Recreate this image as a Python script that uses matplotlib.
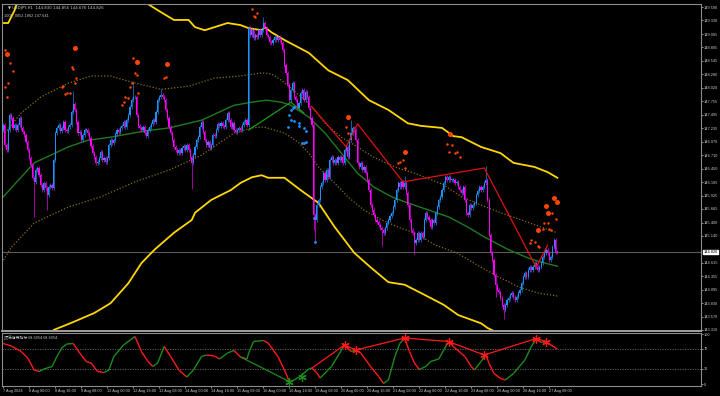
import numpy as np
import matplotlib.pyplot as plt
from matplotlib.collections import LineCollection

# ---------------- data (USDJPY H1) ----------------
closes = [
    147.30, 146.91, 146.81, 147.20, 147.49, 147.43, 147.24, 147.30, 147.20, 147.30, 147.43, 147.24, 147.16, 147.10, 146.97, 146.81,
    146.65, 146.52, 146.27, 146.19, 146.42, 146.46, 146.32, 146.13, 146.03, 146.17, 146.07, 145.94, 146.09, 146.13, 146.07, 146.62,
    147.14, 147.24, 147.30, 147.18, 147.24, 147.35, 147.20, 147.18, 147.26, 147.30, 147.55, 147.70, 147.59, 147.35, 147.14, 147.16,
    147.00, 147.10, 147.20, 147.20, 147.14, 147.04, 146.89, 146.75, 146.67, 146.56, 146.58, 146.65, 146.77, 146.62, 146.65, 146.58,
    146.65, 146.91, 147.00, 146.95, 147.00, 147.12, 147.20, 147.16, 147.24, 147.28, 147.35, 147.26, 147.39, 147.49, 147.65, 147.78,
    147.84, 147.84, 147.49, 147.28, 147.24, 147.20, 147.26, 147.14, 147.08, 147.20, 147.26, 147.32, 147.39, 147.35, 147.55, 147.78,
    147.84, 147.88, 147.84, 147.78, 147.59, 147.43, 147.26, 147.14, 147.00, 146.87, 146.81, 146.75, 146.81, 146.75, 146.85, 146.89,
    146.81, 146.91, 146.81, 146.67, 146.56, 146.71, 146.87, 147.00, 147.06, 147.26, 147.35, 147.16, 147.00, 146.91, 146.97, 146.85,
    146.91, 147.10, 147.08, 147.20, 147.32, 147.28, 147.33, 147.28, 147.26, 147.39, 147.53, 147.39, 147.26, 147.33, 147.20, 147.16,
    147.20, 147.24, 147.20, 147.30, 147.35, 147.39, 147.30, 149.18, 149.05, 149.14, 148.99, 149.05, 149.01, 149.14, 149.05, 149.14,
    149.28, 149.18, 149.05, 149.01, 148.91, 148.89, 148.95, 149.01, 148.95, 149.01, 148.95, 148.89, 148.75, 148.46, 148.31, 148.07,
    147.78, 147.98, 148.11, 147.84, 147.78, 147.63, 147.72, 147.92, 147.98, 147.78, 147.94, 147.84, 147.63, 147.43, 147.30, 145.55,
    145.45, 145.74, 145.84, 146.09, 146.17, 146.36, 146.23, 146.42, 146.28, 146.62, 146.67, 146.56, 146.62, 146.56, 146.67, 146.62,
    146.67, 146.56, 146.81, 146.87, 146.67, 147.00, 147.14, 147.24, 147.20, 147.00, 146.56, 146.48, 146.56, 146.42, 146.48, 146.36,
    146.23, 146.03, 145.74, 145.64, 145.55, 145.45, 145.41, 145.35, 145.29, 145.25, 145.20, 145.29, 145.39, 145.45, 145.53, 145.59,
    145.70, 145.84, 146.03, 146.17, 146.09, 146.19, 146.09, 146.17, 145.97, 145.74, 145.45, 145.25, 145.20, 145.00, 145.06, 145.20,
    145.06, 145.20, 145.12, 145.45, 145.59, 145.51, 145.45, 145.31, 145.45, 145.39, 145.59, 145.70, 145.84, 145.90, 146.03, 146.17,
    146.28, 146.23, 146.28, 146.23, 146.23, 146.23, 146.17, 146.19, 146.09, 146.03, 145.97, 146.09, 145.84, 145.59, 145.55, 145.74,
    145.68, 145.74, 145.78, 145.94, 146.01, 146.09, 146.03, 146.09, 146.17, 146.23, 145.84, 145.16, 144.81, 144.67, 144.38, 144.19,
    144.09, 144.05, 143.93, 143.80, 143.70, 143.80, 143.89, 143.93, 143.99, 144.03, 143.95, 143.89, 143.95, 144.03, 144.09, 144.22,
    144.34, 144.42, 144.34, 144.48, 144.53, 144.48, 144.53, 144.61, 144.53, 144.48, 144.53, 144.61, 144.73, 144.81, 144.87, 144.81,
    144.67, 144.73, 144.92, 145.06, 144.83, 144.826,
]
first_open = 147.20
spike_highs = {43: 147.95, 80: 148.15, 97: 148.00, 160: 149.40, 214: 147.40, 247: 146.30, 297: 146.50}
spike_lows = {19: 145.50, 27: 145.65, 116: 146.05, 191: 145.25, 192: 145.05, 233: 144.95, 253: 144.78, 303: 143.95, 308: 143.52}
wick_pad = 0.04

# bands: (bar, price)
upper_outer = [(0, 149.28), (3, 149.28), (7, 149.53), (11, 149.92), (48, 150.50), (79, 150.02), (87, 149.69),
               (95, 149.53), (105, 149.34), (114, 149.34), (118, 149.20), (124, 149.14), (130, 149.20), (138, 149.28),
               (146, 149.24), (151, 149.18), (159, 149.14), (161, 149.20), (165, 149.10), (173, 148.95), (188, 148.70),
               (200, 148.36), (212, 148.17), (225, 147.78), (237, 147.59), (249, 147.33), (257, 147.28), (270, 147.24),
               (277, 147.08), (282, 147.06), (294, 146.87), (306, 146.75), (314, 146.56), (327, 146.48), (335, 146.38),
               (341, 146.27)]
lower_outer = [(0, 141.95), (17, 142.73), (31, 143.31), (42, 143.45), (56, 143.64), (66, 143.83), (77, 144.22),
               (85, 144.61), (93, 144.87), (105, 145.20), (116, 145.45), (118, 145.59), (128, 145.84), (140, 146.03),
               (146, 146.17), (153, 146.28), (159, 146.32), (163, 146.27), (173, 146.27), (183, 146.03), (194, 145.78),
               (204, 145.31), (216, 144.81), (226, 144.53), (237, 144.24), (247, 144.19), (257, 144.03), (271, 143.80),
               (280, 143.60), (294, 143.44), (298, 143.35), (319, 143.02), (341, 142.73)]
upper_inner = [(1, 147.14), (11, 147.53), (23, 147.84), (40, 148.11), (54, 148.25), (66, 148.25), (79, 148.13),
               (97, 147.99), (114, 148.05), (130, 148.21), (146, 148.25), (159, 148.31), (165, 148.29), (171, 148.17),
               (177, 148.01), (188, 147.72), (198, 147.33), (208, 147.06), (218, 146.87), (228, 146.67), (241, 146.48),
               (253, 146.36), (270, 146.15), (282, 145.90), (294, 145.74), (306, 145.59), (319, 145.45), (331, 145.31),
               (341, 145.20)]
lower_inner = [(0, 144.67), (5, 144.92), (19, 145.39), (40, 145.70), (60, 145.90), (81, 146.19), (102, 146.42),
               (122, 146.71), (142, 147.14), (153, 147.24), (160, 147.26), (173, 147.14), (182, 146.95), (188, 146.75),
               (194, 146.48), (202, 146.23), (212, 145.90), (222, 145.64), (233, 145.45), (243, 145.31), (253, 145.20),
               (266, 144.96), (279, 144.81), (294, 144.53), (305, 144.34), (317, 144.15), (329, 144.03), (341, 143.97)]
middle = [(0, 145.90), (19, 146.56), (40, 146.87), (52, 147.00), (66, 147.06), (87, 147.18), (102, 147.24),
          (122, 147.39), (142, 147.68), (153, 147.74), (162, 147.78), (171, 147.74), (177, 147.68), (188, 147.45),
          (198, 147.14), (208, 146.75), (218, 146.36), (228, 146.09), (239, 145.90), (249, 145.78), (262, 145.64),
          (274, 145.51), (286, 145.31), (296, 145.12), (311, 144.87), (323, 144.71), (331, 144.63), (341, 144.55)]

zz_green = [(151, 147.20), (177, 147.74), (185, 147.53)]
zz_red = [(190, 147.65), (211, 146.87), (218, 147.32), (246, 146.19), (296, 146.46), (328, 144.53), (335, 144.96)]

# dots above (bar, price, big?)
dots_up = [(1, 148.75, 0), (2, 148.68, 1), (4, 148.50, 0), (6, 148.34, 0), (3, 148.11, 0), (1, 148.03, 0), (2, 147.84, 0),
           (44, 148.79, 1), (42, 148.42, 0), (43, 148.38, 0), (45, 148.21, 0), (44, 148.11, 0), (37, 148.05, 0),
           (36, 148.03, 0), (38, 147.90, 0), (39, 147.92, 0), (41, 147.92, 0),
           (80, 148.60, 0), (82, 148.52, 1), (81, 148.31, 0), (82, 148.27, 0), (79, 148.11, 0), (78, 148.03, 0),
           (83, 147.92, 0), (75, 147.84, 0), (77, 147.82, 0), (74, 147.74, 0), (73, 147.68, 0),
           (101, 148.48, 1), (100, 148.23, 0), (99, 148.21, 0),
           (153, 149.55, 0), (156, 149.47, 0), (154, 149.41, 0), (155, 149.39, 0),
           (212, 147.45, 1), (211, 147.26, 0), (212, 147.14, 0),
           (247, 146.77, 1), (246, 146.62, 0), (244, 146.58, 0), (243, 146.56, 0), (247, 146.46, 0),
           (275, 147.12, 1), (273, 146.93, 0), (276, 146.91, 0), (274, 146.77, 0), (278, 146.75, 0),
           (279, 146.77, 0), (281, 146.67, 0),
           (339, 145.88, 1), (341, 145.80, 1), (334, 145.72, 1), (335, 145.59, 1), (338, 145.59, 0),
           (340, 145.47, 0), (333, 145.39, 0), (335, 145.39, 0), (329, 145.25, 1), (332, 145.27, 0),
           (336, 145.27, 0), (337, 145.25, 0), (325, 145.06, 0), (327, 145.02, 0), (324, 145.00, 0),
           (329, 144.94, 0), (330, 144.92, 0)]
dots_down = [(177, 147.59), (178, 147.63), (179, 147.65), (176, 147.49), (177, 147.39), (179, 147.37), (182, 147.33),
             (182, 147.28), (175, 147.26), (185, 147.24), (186, 147.18), (184, 146.95), (185, 146.95), (186, 146.97),
             (191, 145.49), (192, 145.03)]

# oscillator (bar, value)
osc = [(0, 81), (5, 76), (11, 65), (15, 52), (19, 28), (22, 25), (25, 30), (30, 35), (33, 55), (36, 72), (39, 80),
       (43, 81), (47, 62), (51, 45), (54, 42), (58, 25), (62, 23), (65, 28), (68, 55), (74, 78), (81, 95), (85, 65),
       (89, 45), (92, 35), (95, 42), (99, 75), (103, 55), (108, 28), (113, 14), (117, 28), (122, 55), (125, 58),
       (130, 56), (133, 50), (138, 62), (142, 67), (146, 54), (150, 50), (151, 62), (154, 85), (160, 87), (163, 82),
       (169, 55), (173, 28), (176, 5), (179, 8), (183, 16), (188, 30), (190, 32), (193, 22), (195, 12), (202, 35),
       (210, 78), (214, 65), (217, 68), (220, 62), (226, 35), (231, 15), (234, 1), (237, 8), (241, 55), (244, 81),
       (247, 92), (250, 65), (253, 42), (256, 29), (260, 35), (263, 45), (268, 50), (274, 85), (277, 75), (284, 55),
       (288, 35), (290, 28), (294, 45), (297, 58), (299, 41), (302, 21), (306, 11), (309, 8), (314, 21), (321, 48),
       (325, 75), (328, 91), (331, 83), (334, 85), (336, 80), (339, 74), (341, 70)]
osc_zz_green = [(146, 54), (176, 5)]
osc_zz_red = [(190, 32), (210, 78), (217, 68), (247, 92), (274, 85), (296, 58), (328, 91), (334, 85)]
osc_tops = [(210, 78), (217, 68), (247, 92), (274, 85), (296, 58), (328, 91), (334, 85)]
osc_bottoms = [(176, 5), (184, 14)]

# 144.880 sits under the price box in the original, so it is left out
price_ticks = [149.590, 149.330, 149.065, 148.805, 148.545, 148.280, 148.020, 147.755, 147.495, 147.235,
               146.970, 146.710, 146.450, 146.185, 145.925, 145.665, 145.400, 145.140, 144.615,
               144.355, 144.095, 143.830, 143.570, 143.310]
time_labels = ["7 Aug 2024", "8 Aug 00:00", "8 Aug 16:00", "9 Aug 08:00", "12 Aug 00:00", "12 Aug 16:00",
               "13 Aug 08:00", "14 Aug 00:00", "14 Aug 16:00", "15 Aug 08:00", "16 Aug 00:00", "16 Aug 16:00",
               "19 Aug 08:00", "20 Aug 00:00", "20 Aug 16:00", "21 Aug 08:00", "22 Aug 00:00", "22 Aug 16:00",
               "23 Aug 08:00", "26 Aug 00:00", "26 Aug 16:00", "27 Aug 08:00"]
bars_per_label = 16
last_price = 144.826
header1 = "\u25bc USDJPY,H1  144.830 144.856 144.676 144.826"
header2 = "1001_0052 1862 147.641"
osc_title = "顶底背离指标 68.6054 68.6054"

# ---------------- styling ----------------
BG = "black"
TXT = "#c8c8c8"
FRAME = "#8c8c8c"
BULL = "#1e90ff"
BEAR = "#ff00ff"
FS = 2.8
plt.rcParams['font.family'] = ['Liberation Sans', 'DejaVu Sans', 'Noto Sans CJK SC']

fig = plt.figure(figsize=(7.2, 3.96), dpi=100, facecolor=BG)
ax = fig.add_axes([2/720, 65/396, 699/720, 327/396], facecolor=BG)
ax2 = fig.add_axes([2/720, 10/396, 699/720, 53/396], facecolor=BG)

n = len(closes)
x = np.arange(n)
c = np.array(closes)
o = np.concatenate([[first_open], c[:-1]])
hi = np.maximum(o, c) + wick_pad
lo = np.minimum(o, c) - wick_pad
for k, v in spike_highs.items():
    hi[k] = v
for k, v in spike_lows.items():
    lo[k] = v
cols = np.where(c >= o, BULL, BEAR)

# ---------------- main panel ----------------
def pl(a, pts, **kw):
    xs, ys = zip(*pts)
    a.plot(xs, ys, **kw)

pl(ax, upper_outer, color="#ffd700", lw=1.3, zorder=2)
pl(ax, lower_outer, color="#ffd700", lw=1.3, zorder=2)
pl(ax, upper_inner, color="#8a7010", lw=0.9, ls=(0, (1, 1.5)), zorder=2)
pl(ax, lower_inner, color="#8a7010", lw=0.9, ls=(0, (1, 1.5)), zorder=2)
pl(ax, middle, color="#1f7a1f", lw=1.0, zorder=2)

ax.axhline(last_price, color="#5a5a5a", lw=0.8, zorder=1)

ax.vlines(x, lo, hi, colors=cols, lw=0.6, alpha=0.75, zorder=3)
body = np.where(np.abs(c - o) < 0.01, 0.01, c - o)
ax.bar(x, body, bottom=o, width=0.7, color=cols, linewidth=0, zorder=4)

pl(ax, zz_green, color="#1f9a1f", lw=0.9, zorder=5)
pl(ax, zz_red, color="#e01010", lw=0.9, zorder=5)

for bx, py, big in dots_up:
    ax.plot(bx, py, "o", color="#ff4500", ms=3.6 if big else 1.8, mew=0, zorder=6)
dx, dy = zip(*dots_down)
ax.plot(dx, dy, "o", color=BULL, ms=2.0, mew=0, zorder=6, ls="none")

ax.set_xlim(-0.8, 429.4)
ax.set_ylim(143.29, 149.65)
ax.yaxis.tick_right()
ax.set_yticks(price_ticks)
ax.set_yticklabels([f"{t:.3f}" for t in price_ticks])
ax.tick_params(axis="y", colors=TXT, labelsize=FS, length=1.5, width=0.5, pad=0.6)
ax.set_xticks([])
for s in ax.spines.values():
    s.set_color(FRAME)
    s.set_linewidth(0.8)
ax.spines["bottom"].set_color("#a0a0a0")
ax.spines["bottom"].set_linewidth(1.4)

ax.annotate(f"{last_price:.3f}", xy=(1.0, last_price), xycoords=("axes fraction", "data"),
            xytext=(1.6, 0), textcoords="offset points", va="center", ha="left", fontsize=FS,
            color="black", bbox=dict(boxstyle="square,pad=0.12", fc="white", ec="white"), zorder=10,
            annotation_clip=False)

ax.text(0.008, 0.993, header1, transform=ax.transAxes, fontsize=FS, color=TXT, va="top", ha="left",
        family=['DejaVu Sans'])
ax.text(0.003, 0.970, header2, transform=ax.transAxes, fontsize=FS, color=TXT, va="top", ha="left")

# ---------------- oscillator panel ----------------
ox, oy = map(np.array, zip(*osc))
segs = [[(ox[k], oy[k]), (ox[k + 1], oy[k + 1])] for k in range(len(ox) - 1)]
seg_cols = ["#1a8c1a" if oy[k + 1] >= oy[k] else "#ff1a1a" for k in range(len(ox) - 1)]
ax2.add_collection(LineCollection(segs, colors=seg_cols, linewidths=1.0, zorder=3))

pl(ax2, osc_zz_green, color="#1a8c1a", lw=0.9, zorder=4)
pl(ax2, osc_zz_red, color="#ff1a1a", lw=0.9, zorder=4)
tx, ty = zip(*osc_tops)
ax2.plot(tx, ty, ls="none", marker=(6, 2, 0), ms=6, mew=0.9, color="#ff1a1a", zorder=5)
bx_, by_ = zip(*osc_bottoms)
ax2.plot(bx_, by_, ls="none", marker=(6, 2, 0), ms=6, mew=0.9, color="#1a8c1a", zorder=5)

for lvl in (30, 70):
    ax2.axhline(lvl, color="#6a6a6a", lw=0.6, ls=(0, (1.5, 1.5)), zorder=1)

ax2.set_xlim(-0.8, 429.4)
ax2.set_ylim(-4, 102)
ax2.yaxis.tick_right()
ax2.set_yticks([0, 30, 70, 100])
ax2.set_yticklabels(["0", "30", "70", "100"])
ax2.tick_params(axis="y", colors=TXT, labelsize=FS, length=1.5, width=0.5, pad=0.6)
ticks = np.arange(len(time_labels)) * bars_per_label
ax2.set_xticks(ticks)
ax2.set_xticklabels(time_labels)
ax2.tick_params(axis="x", colors=TXT, labelsize=FS, length=1.5, width=0.5, pad=1)
for lbl in ax2.get_xticklabels():
    lbl.set_ha("left")
for s in ax2.spines.values():
    s.set_color(FRAME)
    s.set_linewidth(0.8)
ax2.text(0.003, 0.96, osc_title, transform=ax2.transAxes, fontsize=FS, color=TXT, va="top", ha="left",
         family=['Noto Sans CJK SC', 'DejaVu Sans'])

fig.savefig("out.png", dpi=100, facecolor=BG)
